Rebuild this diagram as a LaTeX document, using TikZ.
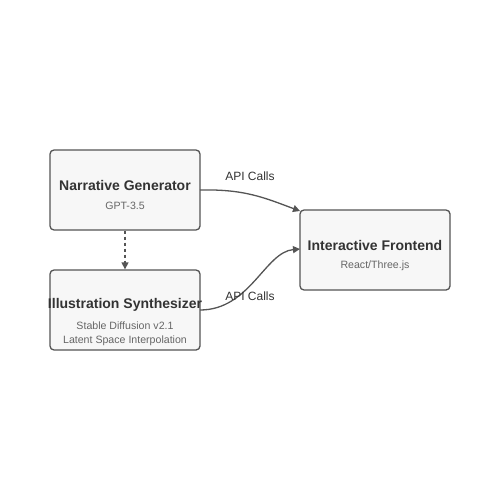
\documentclass[tikz,border=0pt]{standalone}
\usepackage{fontspec}
\setmainfont{Liberation Sans}
\usetikzlibrary{arrows.meta}
\definecolor{boxfill}{HTML}{F7F7F7}
\definecolor{boxline}{HTML}{555555}
\definecolor{titlec}{HTML}{333333}
\definecolor{subc}{HTML}{666666}
\begin{document}
\begin{tikzpicture}[x=1pt,y=-1pt,
  box/.style={draw=boxline,fill=boxfill,line width=1.3pt,rounded corners=4pt,minimum width=150pt,minimum height=80pt,inner sep=0pt},
  ttl/.style={font=\fontsize{14}{16}\selectfont\bfseries,text=titlec,inner sep=0pt},
  sub/.style={font=\fontsize{10.6}{12}\selectfont,text=subc,inner sep=0pt},
  lbl/.style={font=\fontsize{12}{14}\selectfont,text=titlec,inner sep=0pt},
  conn/.style={draw=boxline,line width=1.3pt,-{Triangle[length=7pt,width=7pt]}}]
\useasboundingbox (0,0) rectangle (500,500);
\fill[white] (0,0) rectangle (500,500);
\node[box] (ng) at (125,190) {};
\node[box] (is) at (125,310) {};
\node[box] (fe) at (375,250) {};
\node[ttl] (ngt) at (125,185) {Narrative Generator};
\node[sub] (ngs) at (125,206) {GPT-3.5};
\node[ttl] (ist) at (125,305) {Illustration Synthesizer};
\node[sub] (iss1) at (125,326) {Stable Diffusion v2.1};
\node[sub] (iss2) at (125,341) {Latent Space Interpolation};
\node[ttl] (fet) at (375,245) {Interactive Frontend};
\node[sub] (fes) at (375,266) {React/Three.js};
\coordinate (a1) at (200,190);
\coordinate (a2) at (300,211);
\coordinate (b1) at (200,310);
\coordinate (b2) at (300,249);
\draw[conn] (a1) .. controls (245,189) and (265,198) .. (a2);
\draw[conn] (b1) .. controls (250,310) and (265,252) .. (b2);
\draw[conn,dash pattern=on 3pt off 3pt] (ng.south) -- (is.north);
\node[lbl] (l1) at (250,176) {API Calls};
\node[lbl] (l2) at (250,296) {API Calls};
\end{tikzpicture}
\end{document}
